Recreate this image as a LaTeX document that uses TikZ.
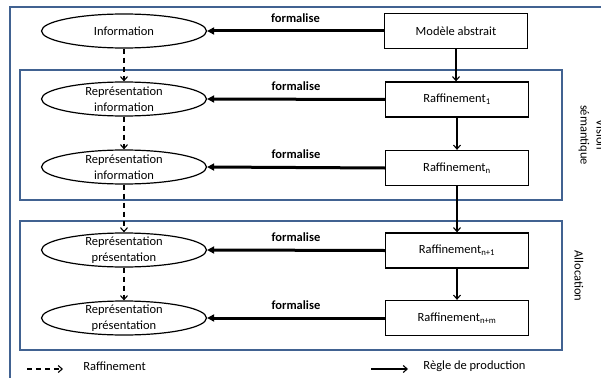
\documentclass[tikz,border=0pt]{standalone}
\usepackage{fontspec}
\setmainfont{Carlito}
\usetikzlibrary{arrows.meta,shapes.geometric}
\definecolor{frameblue}{RGB}{65,98,145}

\begin{document}
\begin{tikzpicture}[x=1pt,y=-1pt,
  txt/.style={font=\fontsize{12.5}{16}\selectfont},
  frame/.style={draw=frameblue,line width=2pt},
  elli/.style={ellipse,draw,line width=1.2pt,minimum width=165pt,minimum height=34pt,
    inner xsep=0pt,inner ysep=-6pt,align=center,txt},
  rbox/.style={rectangle,draw,line width=1.3pt,minimum width=143pt,minimum height=35pt,
    inner sep=0pt,txt},
  formal/.style={line width=3pt,-{Triangle[length=7pt,width=7pt]}},
  refine/.style={line width=1.1pt,dash pattern=on 5pt off 4pt,-{Straight Barb[length=4pt,width=7pt]}},
  prod/.style={line width=1.1pt,-{Straight Barb[length=4pt,width=7pt]}},
  flabel/.style={font=\bfseries\fontsize{12.5}{15}\selectfont,midway,yshift=13pt}
]
\useasboundingbox (0,0) rectangle (601,377);
\clip (0,0) rectangle (601,377);

% outer frame (runs past the page on the right and bottom)
\draw[frame] (10,390) -- (10,7) -- (620,7);

% inner frames
\draw[frame] (20,70) rectangle (562,200);
\draw[frame] (20,221) rectangle (562,350);

% side labels
\node[txt,rotate=-90,align=center] (vis) at (592,135) {Vision\\sémantique};
\node[txt,rotate=-90] (alloc) at (579,276) {Allocation};

% left column: representations
\node[elli] (info) at (124,31) {Information};
\node[elli] (ri1) at (124,99) {Représentation\\information};
\node[elli] (ri2) at (124,167) {Représentation\\information};
\node[elli] (rp1) at (124,250) {Représentation\\présentation};
\node[elli] (rp2) at (124,318) {Représentation\\présentation};

% right column: models
\node[rbox] (ma) at (456,31) {Modèle abstrait};
\node[rbox] (r1) at (457,99.5) {Raffinement\textsubscript{1}};
\node[rbox] (rn) at (457,168) {Raffinement\textsubscript{n}};
\node[rbox] (rn1) at (457,250.5) {Raffinement\textsubscript{n+1}};
\node[rbox] (rnm) at (457,318) {Raffinement\textsubscript{n+m}};

% formalisation arrows
\draw[formal] (ma.west) -- (info.east) node[flabel] {formalise};
\draw[formal] (r1.west) -- (ri1.east) node[flabel] {formalise};
\draw[formal] (rn.west) -- (ri2.east) node[flabel] {formalise};
\draw[formal] (rn1.west) -- (rp1.east) node[flabel] {formalise};
\draw[formal] (rnm.west) -- (rp2.east) node[flabel] {formalise};

% refinement chain
\draw[refine] (info.south) -- (ri1.north);
\draw[refine] (ri1.south) -- (ri2.north);
\draw[refine] (ri2.south) -- (rp1.north);
\draw[refine] (rp1.south) -- (rp2.north);

% production rules
\draw[prod] (ma.south) -- (ma.south |- r1.north);
\draw[prod] (r1.south) -- (rn.north);
\draw[prod] (rn.south) -- (rn1.north);
\draw[prod] (rn1.south) -- (rnm.north);

% legend
\coordinate (la) at (27,369);
\coordinate (lb) at (63,369);
\draw[refine] (la) -- (lb);
\node[txt] (lra) at (114.5,366) {Raffinement};
\coordinate (lc) at (371,369);
\coordinate (ld) at (408,369);
\draw[prod] (lc) -- (ld);
\node[txt] (lrp) at (474.5,366) {Règle de production};
\end{tikzpicture}
\end{document}
